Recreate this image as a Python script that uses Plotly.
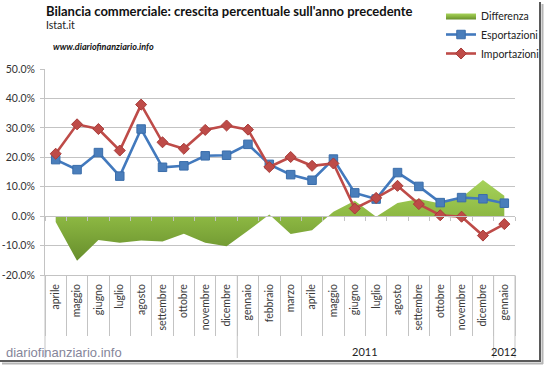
import plotly.graph_objects as go

# ---------------- data ----------------
months = ["aprile", "maggio", "giugno", "luglio", "agosto", "settembre", "ottobre",
          "novembre", "dicembre", "gennaio", "febbraio", "marzo", "aprile", "maggio",
          "giugno", "luglio", "agosto", "settembre", "ottobre", "novembre", "dicembre",
          "gennaio"]
year_labels = ["", "2011", "2012"]
year_counts = [9, 12, 1]

differenza = [-2.0, -15.2, -8.1, -9.0, -8.3, -8.6, -6.0, -9.0, -10.2, -5.0, 0.6,
              -6.1, -4.8, 1.5, 5.2, -0.2, 4.5, 5.8, 4.3, 6.3, 12.3, 6.9]
esportazioni = [19.2, 15.8, 21.6, 13.6, 29.6, 16.6, 17.1, 20.5, 20.7, 24.4, 17.6,
                14.1, 12.2, 19.4, 7.9, 5.8, 14.8, 10.1, 4.6, 6.3, 5.9, 4.4]
importazioni = [21.2, 31.2, 29.6, 22.3, 37.9, 25.1, 22.9, 29.3, 30.8, 29.4, 16.7,
                20.1, 17.1, 17.9, 2.6, 6.2, 10.3, 4.1, 0.3, -0.2, -6.6, -2.7]

y_ticks = [-20, -10, 0, 10, 20, 30, 40, 50]

title = "Bilancia commerciale: crescita percentuale sull'anno precedente"
subtitle = "Istat.it"
site = "www.diariofinanziario.info"
watermark = "diariofinanziario.info"

# ---------------- geometry ----------------
W, H = 545, 365
L, R, T, B = 45, 515, 69, 275
PW, PH = R - L, B - T


def px(x):
    return (x - L) / PW


def py(y):
    return (B - y) / PH


FONT = "Lato, Liberation Sans, sans-serif"
GRID = "#C3C3C3"

n = len(months)
xs = list(range(n))
bounds = [i - 0.5 for i in range(n + 1)]
ymin, ymax = y_ticks[0], y_ticks[-1]

fig = go.Figure()

fig.add_trace(go.Scatter(
    x=xs, y=differenza, name="Differenza", mode="lines",
    line=dict(width=0, color="#8DB843"),
    fill="tozeroy", fillcolor="#8DB843",
    fillgradient=dict(type="vertical",
                      colorscale=[[0, "#678E2C"], [0.55, "#8DB843"], [1, "#A6D25A"]]),
    hoverinfo="skip",
))
fig.add_trace(go.Scatter(
    x=xs, y=esportazioni, name="Esportazioni", mode="lines+markers",
    line=dict(width=2.6, color="#4279BD"),
    marker=dict(symbol="square", size=8.5, color="#4A7EBB",
                line=dict(width=1, color="#3A6DAA")),
))
fig.add_trace(go.Scatter(
    x=xs, y=importazioni, name="Importazioni", mode="lines+markers",
    line=dict(width=2.6, color="#BE4B48"),
    marker=dict(symbol="diamond", size=8.5, color="#BE4B48",
                line=dict(width=1, color="#A83C39")),
))
# empty helper traces so that the overlaying label / zero-line axes are drawn
for ax in ("x2", "x3"):
    fig.add_trace(go.Scatter(x=xs, y=[None] * n, xaxis=ax, yaxis="y", mode="lines",
                             showlegend=False, hoverinfo="skip"))

shapes = []
# year-level separators below the category labels
pos = 0
year_bounds = [-0.5]
for c in year_counts:
    pos += c
    year_bounds.append(pos - 0.5)
for b in year_bounds:
    if b == bounds[0]:
        shapes.append(dict(type="line", xref="paper", yref="paper", x0=0, x1=0,
                           y0=0, y1=py(358), line=dict(color=GRID, width=1)))
    elif b == bounds[-1]:
        shapes.append(dict(type="line", xref="paper", yref="paper", x0=1, x1=1,
                           y0=0, y1=py(358), line=dict(color=GRID, width=1)))
    else:
        shapes.append(dict(type="line", xref="x", yref="paper", x0=b, x1=b,
                           y0=0, y1=py(358), line=dict(color=GRID, width=1)))

# picture frame (shadow on right and bottom)
shapes.append(dict(type="line", xref="paper", yref="paper", x0=px(540), x1=px(540),
                   y0=py(2), y1=py(362), line=dict(color="#5A5A5A", width=2)))
shapes.append(dict(type="line", xref="paper", yref="paper", x0=px(0), x1=px(541),
                   y0=py(361), y1=py(361), line=dict(color="#5A5A5A", width=2)))
shapes.append(dict(type="line", xref="paper", yref="paper", x0=px(542.5), x1=px(542.5),
                   y0=py(4), y1=py(364), line=dict(color="#B5B5B5", width=2)))
shapes.append(dict(type="line", xref="paper", yref="paper", x0=px(2), x1=px(543),
                   y0=py(363.5), y1=py(363.5), line=dict(color="#B5B5B5", width=2)))

annotations = []
# year labels
start = 0
for lab, c in zip(year_labels, year_counts):
    if lab:
        annotations.append(dict(text=lab, x=start + (c - 1) / 2, xref="x",
                                y=py(351), yref="paper", showarrow=False,
                                xanchor="center", yanchor="middle",
                                font=dict(family=FONT, size=11, color="#222222")))
    start += c

annotations += [
    dict(text="<b>" + title + "</b>", x=px(44), y=py(11), xref="paper", yref="paper",
         showarrow=False, xanchor="left", yanchor="middle",
         font=dict(family=FONT, size=13, color="#111111")),
    dict(text=subtitle, x=px(44), y=py(25), xref="paper", yref="paper",
         showarrow=False, xanchor="left", yanchor="middle",
         font=dict(family=FONT, size=10.5, color="#222222")),
    dict(text="<b><i>" + site + "</i></b>", x=px(51), y=py(46), xref="paper", yref="paper",
         showarrow=False, xanchor="left", yanchor="middle",
         font=dict(family=FONT, size=9, color="#111111")),
    dict(text=watermark, x=px(4), y=py(352), xref="paper", yref="paper",
         showarrow=False, xanchor="left", yanchor="middle",
         font=dict(family="Liberation Sans, Arial, sans-serif", size=13, color="#85859A")),
]

fig.update_layout(
    width=W, height=H,
    margin=dict(l=L, r=W - R, t=T, b=H - B, pad=0, autoexpand=False),
    paper_bgcolor="white", plot_bgcolor="white",
    font=dict(family=FONT, size=11, color="#333333"),
    showlegend=True,
    legend=dict(x=px(441), y=py(1), xanchor="left", yanchor="top",
                bgcolor="rgba(0,0,0,0)", font=dict(family=FONT, size=10.5, color="#222222"),
                tracegroupgap=0),
    hovermode=False,
    shapes=shapes,
    annotations=annotations,
    xaxis=dict(range=[bounds[0], bounds[-1]], tickmode="array", tickvals=bounds,
               ticks="outside", ticklen=60, tickcolor=GRID, tickwidth=1,
               showticklabels=False, showgrid=False, zeroline=False,
               showline=True, linecolor=GRID, linewidth=1, automargin=False),
    xaxis2=dict(range=[bounds[0], bounds[-1]], overlaying="x", anchor="y", side="bottom",
                tickmode="array", tickvals=xs, ticktext=months, tickangle=-90,
                ticks="", showgrid=False, zeroline=False, showline=False,
                ticklabelstandoff=6, automargin=False,
                tickfont=dict(family=FONT, size=10.5, color="#3A3A3A")),
    xaxis3=dict(range=[bounds[0], bounds[-1]], overlaying="x", anchor="free",
                position=(0 - ymin) / (ymax - ymin), side="bottom",
                tickmode="array", tickvals=bounds, ticks="outside", ticklen=4,
                tickcolor=GRID, showticklabels=False, showgrid=False,
                zeroline=False, showline=True, linecolor=GRID, automargin=False),
    yaxis=dict(range=[ymin, ymax], tickmode="array", tickvals=y_ticks,
               ticktext=[f"{v:.1f}%" for v in y_ticks],
               showgrid=True, gridcolor=GRID, gridwidth=1, zeroline=False,
               showline=True, linecolor=GRID, ticks="outside", ticklen=4,
               tickcolor=GRID, ticklabelstandoff=3, automargin=False,
               tickfont=dict(family=FONT, size=10.5, color="#333333")),
)

fig.write_html("out.html", config={"displayModeBar": False})
